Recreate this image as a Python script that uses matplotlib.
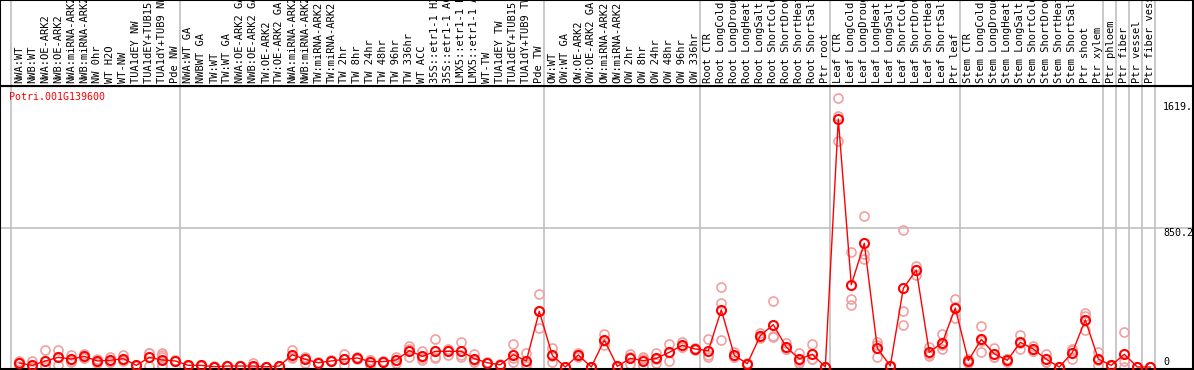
import matplotlib
matplotlib.use('Agg')
import matplotlib.pyplot as plt
import numpy as np

# sample labels, one per column
labels = ['NWA:WT', 'NWB:WT', 'NWA:OE-ARK2', 'NWB:OE-ARK2', 'NWA:miRNA-ARK2', 'NWB:miRNA-ARK2',
          'NW 0hr', 'WT H2O', 'WT-NW', 'TUA1dEY NW', 'TUA1dEY+TUB15 NW', 'TUA1dY+TUB9 NW', 'Pde NW',
          'NWA:WT GA', 'NWBWT GA', 'TW:WT', 'TW:WT GA', 'NWA:OE-ARK2 GA', 'NWB:OE-ARK2 GA',
          'TW:OE-ARK2', 'TW:OE-ARK2 GA', 'NWA:miRNA-ARK2', 'NWB:miRNA-ARK2', 'TW:miRNA-ARK2',
          'TW:miRNA-ARK2', 'TW 2hr', 'TW 8hr', 'TW 24hr', 'TW 48hr', 'TW 96hr', 'TW 336hr', 'WT ACC',
          '35S::etr1-1 H2O', '35S::etr1-1 ACC', 'LMX5::etr1-1 H2O', 'LMX5::etr1-1 ACC', 'WT-TW',
          'TUA1dEY TW', 'TUA1dEY+TUB15 TW', 'TUA1dY+TUB9 TW', 'Pde TW',
          'OW:WT', 'OW:WT GA', 'OW:OE-ARK2', 'OW:OE-ARK2 GA', 'OW:miRNA-ARK2', 'OW:miRNA-ARK2',
          'OW 2hr', 'OW 8hr', 'OW 24hr', 'OW 48hr', 'OW 96hr', 'OW 336hr',
          'Root CTR', 'Root LongCold', 'Root LongDrought', 'Root LongHeat', 'Root LongSalt',
          'Root ShortCold', 'Root ShortDrought', 'Root ShortHeat', 'Root ShortSalt', 'Ptr root',
          'Leaf CTR', 'Leaf LongCold', 'Leaf LongDrought', 'Leaf LongHeat', 'Leaf LongSalt',
          'Leaf ShortCold', 'Leaf ShortDrought', 'Leaf ShortHeat', 'Leaf ShortSalt', 'Ptr leaf',
          'Stem CTR', 'Stem LongCold', 'Stem LongDrought', 'Stem LongHeat', 'Stem LongSalt',
          'Stem ShortCold', 'Stem ShortDrought', 'Stem ShortHeat', 'Stem ShortSalt', 'Ptr shoot',
          'Ptr xylem', 'Ptr phloem', 'Ptr fiber', 'Ptr vessel', 'Ptr fiber vessel']

group_sizes = [13, 28, 12, 10, 10, 11, 1, 1, 1, 1]

means = [24, 10, 37, 59, 49, 65, 37, 41, 51, 10, 59, 43, 37,
         10, 10, 2, 6, 6, 6, 1, 6, 75, 47, 26, 37, 47, 55, 33, 33, 43, 100, 65, 96, 96, 96,
         51, 26, 14, 75, 37, 341,
         71, 0, 73, 0, 165, 4, 53, 39, 53, 90, 133, 110,
         100, 349, 71, 20, 192, 259, 122, 49, 78, 0,
         1517, 503, 757, 116, 6, 481, 593, 90, 149, 361,
         39, 169, 80, 41, 151, 110, 47, 0, 88, 288, 49,
         10, 78, 0, 0]

reps = [[35, 4, 33], [37, 0, 0], [102, 0, 10], [104, 10, 63], [75, 29, 43], [80, 57, 58],
        [51, 22, 38], [61, 29, 33], [71, 43, 39], [10, 8, 12], [88, 6, 83], [88, 71, 59, 10, 0],
        [40, 35, 36],
        [10, 12, 8], [10, 9, 11], [2, 0, 4], [6, 4, 8], [6, 5, 8], [26, 0, 2], [1, 0, 2], [6, 4, 8],
        [104, 63, 58], [63, 22, 55], [30, 22, 26], [40, 35, 36], [80, 12, 49], [59, 50, 56],
        [12, 45, 42], [35, 30, 34], [59, 26, 44], [130, 59, 111], [100, 41, 54], [169, 63, 56],
        [110, 71, 107], [151, 63, 74], [80, 43, 30], [26, 24, 28], [14, 12, 16], [141, 31, 53],
        [88, 6, 17], [445, 237, 341],
        [114, 29, 70], [0, 0, 0], [88, 59, 72], [0, 0, 0], [200, 135, 160], [4, 2, 6],
        [80, 18, 61], [61, 6, 50], [84, 26, 49], [139, 37, 94], [155, 120, 124], [110, 105, 115],
        [169, 59, 72], [488, 390, 163], [94, 60, 59], [20, 18, 22], [206, 180, 190],
        [404, 182, 191], [145, 110, 111], [88, 22, 37], [141, 47, 46], [0, 0, 0],
        [1644, 1382, 1535], [705, 416, 379], [924, 689, 661], [153, 136, 59], [6, 4, 8],
        [836, 344, 257], [620, 563, 596], [124, 80, 66], [202, 110, 135], [416, 298, 369],
        [22, 45, 50], [251, 94, 162], [114, 63, 63], [29, 48, 46], [196, 108, 149],
        [130, 100, 100], [80, 30, 31], [0, 0, 0], [51, 105, 108], [328, 226, 310], [94, 12, 41],
        [10, 8, 12], [212, 37, 0], [0, 0, 0], [0, 0, 0]]

gene = 'Potri.001G139600'
y_ticks = [0, 850.2, 1619]
y_tick_labels = ['0', '850.2', '1619.']

W, H = 1194, 370
fig = plt.figure(figsize=(W / 100, H / 100), dpi=100)

# pixel layout
left, right, head, bottom = 0, 1193, 86, 369
x0, step = 19.3, 13.0
xlim = (-(x0 - left) / step, (right - x0) / step)
ylo, yhi = -12.2, 1719

ax = fig.add_axes([left / W, (H - bottom) / H, (right - left) / W, (bottom - head) / H])
hx = fig.add_axes([left / W, (H - head) / H, (right - left) / W, head / H])

bounds = np.concatenate([[0], np.cumsum(group_sizes)]) - 0.64
x = np.arange(len(labels))

for a in (ax, hx):
    a.set_xlim(*xlim)
    a.set_xticks([])
    a.set_yticks([])
    for s in a.spines.values():
        s.set_color('black')
        s.set_linewidth(1.5)
    for b in bounds:
        a.axvline(b, color='#c0c0c0', lw=1.2, zorder=0)

ax.set_ylim(ylo, yhi)
ax.axhline(850.2, color='#c0c0c0', lw=1.2, zorder=0)

# replicates
for i, r in enumerate(reps):
    ax.plot([i] * len(r), r, 'o', ms=6.5, mfc='none', mec='#f0a0a0', mew=1.2,
            clip_on=False, zorder=2)
ax.plot(x, means, '-', color='red', lw=1, zorder=3)
ax.plot(x, means, 'o', ms=6.5, mfc='none', mec='red', mew=1.5, zorder=4, clip_on=False)

mono = 'DejaVu Sans Mono'
ax.text(9 / (right - left), 1 - 11 / (bottom - head), gene, transform=ax.transAxes,
        color='red', fontsize=7.2, family=mono, va='center', ha='left')

tx = (1163 - left) / (right - left)
for v, t in zip(y_ticks, y_tick_labels):
    ax.text(tx, v, t, transform=ax.get_yaxis_transform(), fontsize=7.2, family=mono,
            ha='left', va='bottom' if v == 0 else 'top')

hx.set_ylim(0, head)
for i, lab in enumerate(labels):
    hx.text(i, 3, lab, rotation=90, ha='center', va='bottom', fontsize=7.5, family=mono)

fig.savefig('out.png', dpi=100)
